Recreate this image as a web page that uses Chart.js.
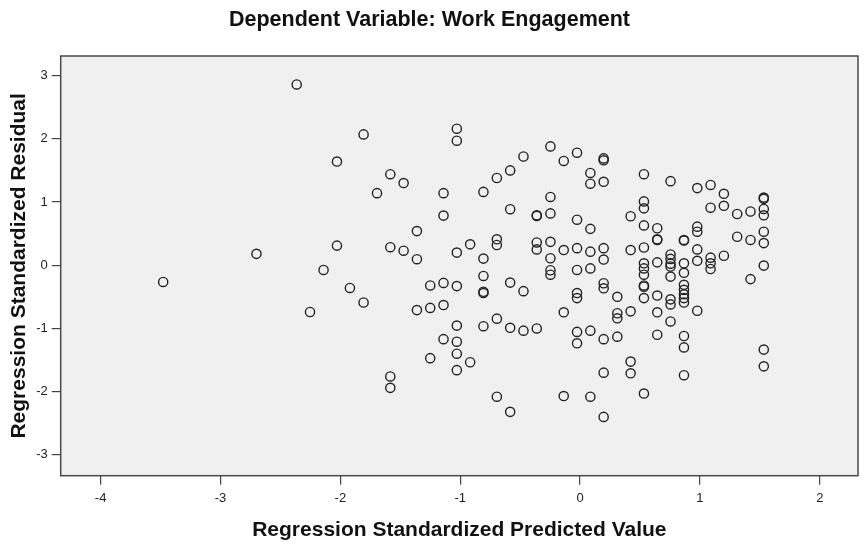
<!DOCTYPE html>
<html>
<head>
<meta charset="utf-8">
<script src="https://cdn.jsdelivr.net/npm/chart.js@4.4.1/dist/chart.umd.min.js"></script>
<style>
  html, body { margin: 0; padding: 0; background: #ffffff; }
  #wrap { width: 864px; height: 546px; }
</style>
</head>
<body>
<div id="wrap"><canvas id="c" width="864" height="546"></canvas></div>
<script>
const chartTitle = "Dependent Variable: Work Engagement";
const xAxisTitle = "Regression Standardized Predicted Value";
const yAxisTitle = "Regression Standardized Residual";
const xTickValues = [-4, -3, -2, -1, 0, 1, 2];
const yTickValues = [-3, -2, -1, 0, 1, 2, 3];

const predictedValues = [
  -3.478,
  -2.70,
  -2.364,
  -2.253,
  -2.14,
  -2.028, -2.028,
  -1.92,
  -1.806, -1.806,
  -1.694,
  -1.583, -1.583, -1.583, -1.583,
  -1.472, -1.472,
  -1.361, -1.361, -1.361,
  -1.25, -1.25, -1.25,
  -1.139, -1.139, -1.139, -1.139, -1.139,
  -1.028, -1.028, -1.028, -1.028, -1.028, -1.028, -1.028, -1.028,
  -0.917, -0.917,
  -0.806, -0.806, -0.806, -0.806, -0.806, -0.806,
  -0.694, -0.694, -0.694, -0.694, -0.694,
  -0.583, -0.583, -0.583, -0.583, -0.583,
  -0.472, -0.472, -0.472,
  -0.361, -0.361, -0.361, -0.361, -0.361,
  -0.247, -0.247, -0.247, -0.247, -0.247, -0.247, -0.247,
  -0.136, -0.136, -0.136, -0.136,
  -0.025, -0.025, -0.025, -0.025, -0.025, -0.025, -0.025, -0.025,
  0.086, 0.086, 0.086, 0.086, 0.086, 0.086, 0.086,
  0.197, 0.197, 0.197, 0.197, 0.197, 0.197, 0.197, 0.197, 0.197, 0.197,
  0.311, 0.311, 0.311, 0.311,
  0.422, 0.422, 0.422, 0.422, 0.422,
  0.533, 0.533, 0.533, 0.533, 0.533, 0.533, 0.533, 0.533, 0.533, 0.533, 0.533, 0.533,
  0.644, 0.644, 0.644, 0.644, 0.644, 0.644, 0.644,
  0.755, 0.755, 0.755, 0.755, 0.755, 0.755, 0.755, 0.755, 0.755,
  0.867, 0.867, 0.867, 0.867, 0.867, 0.867, 0.867, 0.867, 0.867, 0.867, 0.867, 0.867,
  0.978, 0.978, 0.978, 0.978, 0.978, 0.978,
  1.089, 1.089, 1.089, 1.089, 1.089,
  1.2, 1.2, 1.2,
  1.311, 1.311,
  1.422, 1.422, 1.422,
  1.533, 1.533, 1.533, 1.533, 1.533, 1.533, 1.533, 1.533, 1.533
];

const residualValues = [
  -0.265,
  0.18,
  2.86,
  -0.74,
  -0.075,
  1.64, 0.31,
  -0.36,
  2.07, -0.59,
  1.14,
  1.44, 0.285, -1.76, -1.94,
  1.30, 0.23,
  0.54, 0.095, -0.71,
  -0.32, -0.675, -1.47,
  1.14, 0.785, -0.28, -0.63, -1.17,
  2.16, 1.97, 0.20, -0.33, -0.955, -1.21, -1.40, -1.66,
  0.33, -1.535,
  1.16, 0.105, -0.17, -0.42, -0.44, -0.965,
  1.38, 0.41, 0.32, -0.845, -2.08,
  1.50, 0.886, -0.275, -0.99, -2.32,
  1.72, -0.41, -1.035,
  0.79, 0.78, 0.36, 0.25, -1.0,
  1.88, 1.08, 0.82, 0.37, 0.11, -0.08, -0.15,
  1.65, 0.24, -0.745, -2.07,
  1.78, 0.72, 0.27, -0.075, -0.44, -0.52, -1.055, -1.235,
  1.46, 1.29, 0.575, 0.215, -0.05, -1.035, -2.08,
  1.69, 1.66, 1.32, 0.27, 0.09, -0.285, -0.365, -1.17, -1.70, -2.40,
  -0.50, -0.76, -0.84, -1.13,
  0.775, 0.24, -0.73, -1.525, -1.71,
  1.44, 1.01, 0.90, 0.63, 0.28, 0.03, -0.05, -0.15, -0.32, -0.34, -0.52, -2.03,
  0.585, 0.41, 0.40, 0.045, -0.48, -0.745, -1.10,
  1.33, 0.17, 0.10, 0.025, -0.02, -0.18, -0.54, -0.62, -0.89,
  0.40, 0.39, 0.03, -0.12, -0.31, -0.39, -0.46, -0.52, -0.59, -1.12, -1.30, -1.74,
  1.22, 0.61, 0.53, 0.25, 0.07, -0.72,
  1.27, 0.91, 0.12, 0.03, -0.06,
  1.13, 0.94, 0.15,
  0.81, 0.45,
  0.85, 0.40, -0.22,
  1.07, 1.05, 0.89, 0.79, 0.53, 0.35, -0.006, -1.335, -1.60
];

const points = predictedValues.map((x, i) => ({ x: x, y: residualValues[i] }));

Chart.defaults.font.family = "'Liberation Sans', Arial, sans-serif";
Chart.defaults.color = '#222';

const plotFrame = {
  id: 'plotFrame',
  beforeDatasetsDraw(chart) {
    const a = chart.chartArea;
    const ctx = chart.ctx;
    ctx.save();
    ctx.fillStyle = '#f0f0f0';
    ctx.fillRect(a.left, a.top, a.right - a.left, a.bottom - a.top);
    ctx.strokeStyle = '#4a4a4a';
    ctx.lineWidth = 1.5;
    ctx.strokeRect(a.left, a.top, a.right - a.left, a.bottom - a.top);
    ctx.restore();
  }
};

new Chart(document.getElementById('c'), {
  type: 'scatter',
  data: {
    datasets: [{
      data: points,
      pointStyle: 'circle',
      pointRadius: 4.6,
      pointHoverRadius: 4.6,
      pointBorderWidth: 1.4,
      borderColor: '#222',
      backgroundColor: 'rgba(0,0,0,0)'
    }]
  },
  options: {
    responsive: false,
    animation: false,
    events: [],
    layout: { padding: { top: 0, right: 5, bottom: 0, left: 0 } },
    plugins: {
      legend: { display: false },
      tooltip: { enabled: false },
      title: {
        display: true,
        text: chartTitle,
        color: '#111',
        font: { size: 21.5, weight: 'bold' },
        padding: { top: 7, bottom: 23.2 }
      }
    },
    scales: {
      x: {
        type: 'linear',
        min: -4.333,
        max: 2.319,
        afterBuildTicks(scale) { scale.ticks = xTickValues.map(v => ({ value: v })); },
        afterFit(scale) { scale.height = 70.3; },
        grid: { display: true, drawOnChartArea: false, drawTicks: true, tickLength: 9, color: '#444', lineWidth: 1.2 },
        border: { display: false },
        ticks: { color: '#222', font: { size: 13 }, padding: 6, maxRotation: 0 },
        title: {
          display: true,
          text: xAxisTitle,
          color: '#111',
          font: { size: 21, weight: 'bold' },
          padding: { top: 0, bottom: 3 }
        }
      },
      y: {
        type: 'linear',
        min: -3.33,
        max: 3.31,
        afterBuildTicks(scale) { scale.ticks = yTickValues.map(v => ({ value: v })); },
        afterFit(scale) { scale.width = 60.7; },
        grid: { display: true, drawOnChartArea: false, drawTicks: true, tickLength: 9, color: '#444', lineWidth: 1.2 },
        border: { display: false },
        ticks: { color: '#222', font: { size: 13 }, padding: 4 },
        title: {
          display: true,
          text: yAxisTitle,
          color: '#111',
          font: { size: 21, weight: 'bold' },
          padding: { top: 7, bottom: 0 }
        }
      }
    }
  },
  plugins: [plotFrame]
});
</script>
</body>
</html>
